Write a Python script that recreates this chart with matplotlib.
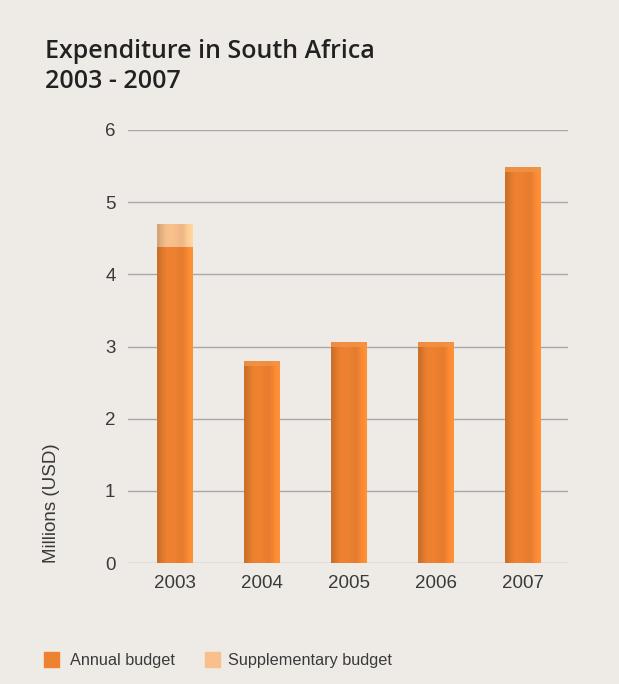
import matplotlib
matplotlib.use("Agg")
import matplotlib.pyplot as plt
import numpy as np
from matplotlib.patches import Rectangle

years = ["2003", "2004", "2005", "2006", "2007"]
annual = [4.38, 2.80, 3.06, 3.06, 5.49]
supplementary = [0.32, 0.0, 0.0, 0.0, 0.0]
yticks = [0, 1, 2, 3, 4, 5, 6]

bg = "#eeebe7"
c_annual = "#ef8230"
c_supp = "#f8c08c"
txt = "#3a3a3a"

plt.rcParams['font.family'] = ['Liberation Sans', 'DejaVu Sans']

fig = plt.figure(figsize=(6.19, 6.84), dpi=100, facecolor=bg)
ax = fig.add_axes([128/619, 121/684, 440/619, 433/684])
ax.set_facecolor(bg)

x = np.arange(len(years))
w = 0.41
bars = ax.bar(x, annual, width=w, color=c_annual, zorder=3)
sbars = ax.bar(x, supplementary, width=w, bottom=annual, color=c_supp, zorder=3)

# horizontal shading inside each bar (darker edges, lighter right rim)
grad = np.array([0.85, 0.95, 1.0, 1.0, 0.99, 0.97, 0.95, 1.05, 1.12])
for b, base in [(bb, c_annual) for bb in bars] + [(bb, c_supp) for bb in sbars]:
    if b.get_height() <= 0:
        continue
    rgb = np.array(matplotlib.colors.to_rgb(base))
    img = np.clip(grad[:, None] * rgb[None, :], 0, 1)[None, :, :]
    x0, y0 = b.get_x(), b.get_y()
    im = ax.imshow(img, extent=[x0, x0 + b.get_width(), y0, y0 + b.get_height()],
                   aspect='auto', zorder=4, interpolation='bicubic')
    im.set_clip_path(b)

# subtle light top cap on bars
for i in range(len(years)):
    top = annual[i] + supplementary[i]
    if supplementary[i] == 0:
        ax.add_patch(Rectangle((x[i] - w/2, top - 0.07), w, 0.07, color="#f29448",
                               alpha=0.8, zorder=5, lw=0))

ax.set_xlim(-0.54, 4.52)
ax.set_ylim(0, 6)
ax.set_yticks(yticks)
ax.set_yticklabels([str(t) for t in yticks], fontsize=13.5, color=txt)
ax.set_xticks(x)
ax.set_xticklabels(years, fontsize=13.5, color=txt)
ax.tick_params(length=0, pad=9)
ax.tick_params(axis='x', pad=9)
ax.yaxis.grid(True, color="#a8a8a8", lw=1, zorder=0)
ax.set_axisbelow(True)
for s in ax.spines.values():
    s.set_visible(False)

fig.text(52/619, 1 - 503/684, "Millions (USD)", rotation=90, ha='center', va='center',
         fontsize=13.5, color=txt)

fig.text(45/619, 1 - 58/684, "Expenditure in South Africa", fontsize=18, fontweight='semibold',
         color="#222222", ha='left', va='baseline', family=['Open Sans', 'DejaVu Sans'])
fig.text(45/619, 1 - 88/684, "2003 - 2007", fontsize=18, fontweight='semibold',
         color="#222222", ha='left', va='baseline', family=['Open Sans', 'DejaVu Sans'])

# legend
fig.patches.append(Rectangle((44/619, 1 - 667/684), 15/619, 15/684, transform=fig.transFigure,
                             color=c_annual, figure=fig))
fig.text(70/619, 1 - 660/684, "Annual budget", fontsize=11.7, color=txt, va='center')
fig.patches.append(Rectangle((205/619, 1 - 667/684), 15/619, 15/684, transform=fig.transFigure,
                             color=c_supp, figure=fig))
fig.text(228/619, 1 - 660/684, "Supplementary budget", fontsize=11.7, color=txt, va='center')

fig.savefig("out.png", dpi=100, facecolor=bg)
